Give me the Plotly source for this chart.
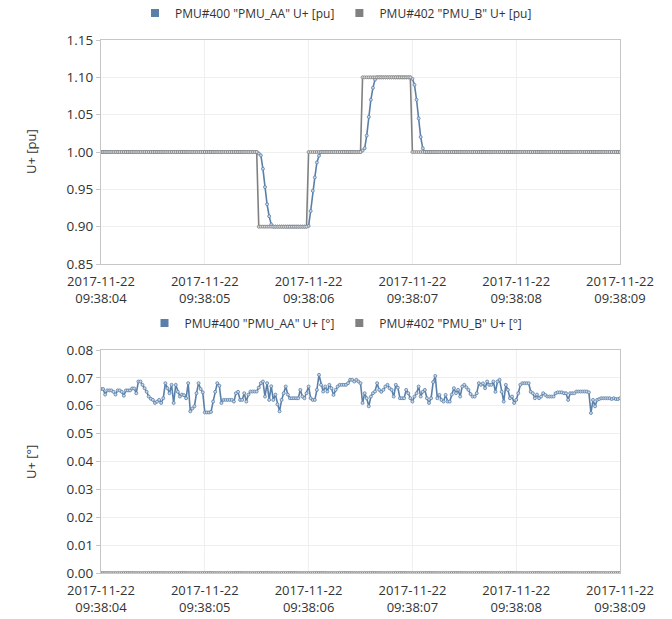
import pandas as pd
import plotly.graph_objects as go

# Sample timestamps (50 samples per second, 5 s window)
START = "2017-11-22 09:38:04"
N_SAMPLES = 251
times = pd.date_range(START, periods=N_SAMPLES, freq="20ms").strftime("%Y-%m-%d %H:%M:%S.%f").tolist()

SERIES_AA = 'PMU#400 "PMU_AA" U+'
SERIES_B = 'PMU#402 "PMU_B" U+'

# Positive-sequence voltage magnitude [pu]
u_mag_aa = [
    1.00, 1.00, 1.00, 1.00, 1.00, 1.00, 1.00, 1.00, 1.00, 1.00,
    1.00, 1.00, 1.00, 1.00, 1.00, 1.00, 1.00, 1.00, 1.00, 1.00,
    1.00, 1.00, 1.00, 1.00, 1.00, 1.00, 1.00, 1.00, 1.00, 1.00,
    1.00, 1.00, 1.00, 1.00, 1.00, 1.00, 1.00, 1.00, 1.00, 1.00,
    1.00, 1.00, 1.00, 1.00, 1.00, 1.00, 1.00, 1.00, 1.00, 1.00,
    1.00, 1.00, 1.00, 1.00, 1.00, 1.00, 1.00, 1.00, 1.00, 1.00,
    1.00, 1.00, 1.00, 1.00, 1.00, 1.00, 1.00, 1.00, 1.00, 1.00,
    1.00, 1.00, 1.00, 1.00, 1.00, 1.00,
    0.998, 0.9955, 0.9775, 0.953, 0.930, 0.914, 0.903, 0.900,
    0.90, 0.90, 0.90, 0.90, 0.90, 0.90, 0.90, 0.90,
    0.90, 0.90, 0.90, 0.90, 0.90, 0.90, 0.90, 0.90,
    0.901, 0.921, 0.948, 0.966, 0.986, 0.995, 1.00,
    1.00, 1.00, 1.00, 1.00, 1.00, 1.00, 1.00, 1.00, 1.00, 1.00,
    1.00, 1.00, 1.00, 1.00, 1.00, 1.00, 1.00, 1.00, 1.00,
    1.002, 1.005, 1.022, 1.047, 1.070, 1.086, 1.097, 1.100,
    1.10, 1.10, 1.10, 1.10, 1.10, 1.10, 1.10, 1.10,
    1.10, 1.10, 1.10, 1.10, 1.10, 1.10, 1.10, 1.10,
    1.098, 1.090, 1.070, 1.045, 1.020, 1.005, 1.00,
    1.00, 1.00, 1.00, 1.00, 1.00, 1.00, 1.00, 1.00, 1.00, 1.00,
    1.00, 1.00, 1.00, 1.00, 1.00, 1.00, 1.00, 1.00, 1.00, 1.00,
    1.00, 1.00, 1.00, 1.00, 1.00, 1.00, 1.00, 1.00, 1.00, 1.00,
    1.00, 1.00, 1.00, 1.00, 1.00, 1.00, 1.00, 1.00, 1.00, 1.00,
    1.00, 1.00, 1.00, 1.00, 1.00, 1.00, 1.00, 1.00, 1.00, 1.00,
    1.00, 1.00, 1.00, 1.00, 1.00, 1.00, 1.00, 1.00, 1.00, 1.00,
    1.00, 1.00, 1.00, 1.00, 1.00, 1.00, 1.00, 1.00, 1.00, 1.00,
    1.00, 1.00, 1.00, 1.00, 1.00, 1.00, 1.00, 1.00, 1.00, 1.00,
    1.00, 1.00, 1.00, 1.00, 1.00, 1.00, 1.00, 1.00, 1.00, 1.00,
    1.00, 1.00, 1.00, 1.00,
]

u_mag_b = [
    1.00, 1.00, 1.00, 1.00, 1.00, 1.00, 1.00, 1.00, 1.00, 1.00,
    1.00, 1.00, 1.00, 1.00, 1.00, 1.00, 1.00, 1.00, 1.00, 1.00,
    1.00, 1.00, 1.00, 1.00, 1.00, 1.00, 1.00, 1.00, 1.00, 1.00,
    1.00, 1.00, 1.00, 1.00, 1.00, 1.00, 1.00, 1.00, 1.00, 1.00,
    1.00, 1.00, 1.00, 1.00, 1.00, 1.00, 1.00, 1.00, 1.00, 1.00,
    1.00, 1.00, 1.00, 1.00, 1.00, 1.00, 1.00, 1.00, 1.00, 1.00,
    1.00, 1.00, 1.00, 1.00, 1.00, 1.00, 1.00, 1.00, 1.00, 1.00,
    1.00, 1.00, 1.00, 1.00, 1.00, 1.00,
    0.90, 0.90, 0.90, 0.90, 0.90, 0.90, 0.90, 0.90, 0.90, 0.90, 0.90, 0.90,
    0.90, 0.90, 0.90, 0.90, 0.90, 0.90, 0.90, 0.90, 0.90, 0.90, 0.90, 0.90,
    1.00, 1.00, 1.00, 1.00, 1.00, 1.00, 1.00, 1.00, 1.00, 1.00, 1.00, 1.00, 1.00,
    1.00, 1.00, 1.00, 1.00, 1.00, 1.00, 1.00, 1.00, 1.00, 1.00, 1.00, 1.00, 1.00,
    1.10, 1.10, 1.10, 1.10, 1.10, 1.10, 1.10, 1.10, 1.10, 1.10, 1.10, 1.10,
    1.10, 1.10, 1.10, 1.10, 1.10, 1.10, 1.10, 1.10, 1.10, 1.10, 1.10, 1.10,
    1.00, 1.00, 1.00, 1.00, 1.00, 1.00, 1.00, 1.00, 1.00, 1.00,
    1.00, 1.00, 1.00, 1.00, 1.00, 1.00, 1.00, 1.00, 1.00, 1.00,
    1.00, 1.00, 1.00, 1.00, 1.00, 1.00, 1.00, 1.00, 1.00, 1.00,
    1.00, 1.00, 1.00, 1.00, 1.00, 1.00, 1.00, 1.00, 1.00, 1.00,
    1.00, 1.00, 1.00, 1.00, 1.00, 1.00, 1.00, 1.00, 1.00, 1.00,
    1.00, 1.00, 1.00, 1.00, 1.00, 1.00, 1.00, 1.00, 1.00, 1.00,
    1.00, 1.00, 1.00, 1.00, 1.00, 1.00, 1.00, 1.00, 1.00, 1.00,
    1.00, 1.00, 1.00, 1.00, 1.00, 1.00, 1.00, 1.00, 1.00, 1.00,
    1.00, 1.00, 1.00, 1.00, 1.00, 1.00, 1.00, 1.00, 1.00, 1.00,
    1.00, 1.00, 1.00, 1.00, 1.00, 1.00, 1.00, 1.00, 1.00, 1.00,
    1.00,
]

# Positive-sequence voltage angle [deg]
u_ang_aa = [
    0.066, 0.066, 0.064, 0.0655, 0.0655, 0.0655, 0.065, 0.064, 0.0655, 0.0655,
    0.065, 0.0636, 0.0655, 0.0655, 0.0655, 0.0662, 0.0662, 0.0645, 0.0687, 0.0687,
    0.0675, 0.0663, 0.065, 0.0633, 0.0625, 0.0621, 0.061, 0.0615, 0.0621, 0.061,
    0.0627, 0.0681, 0.0663, 0.0645, 0.0675, 0.061, 0.0675, 0.065, 0.0633, 0.064,
    0.0638, 0.0627, 0.0681, 0.058, 0.059, 0.0598, 0.0645, 0.0681, 0.066, 0.0648,
    0.0576, 0.0576, 0.0576, 0.0578, 0.0615, 0.065, 0.0681, 0.0672, 0.061, 0.0621,
    0.0621, 0.0621, 0.0621, 0.0621, 0.0615, 0.0645, 0.065, 0.0621, 0.0621, 0.0645,
    0.0615, 0.064, 0.0651, 0.0651, 0.0651, 0.0651, 0.0665, 0.0681, 0.0687, 0.0633,
    0.0681, 0.0621, 0.067, 0.0621, 0.0640,
    0.0605, 0.058, 0.0621, 0.0645, 0.0669, 0.064, 0.0627, 0.0627, 0.0627, 0.0627,
    0.0627, 0.0657, 0.0633, 0.0627, 0.0645, 0.0669, 0.0627, 0.0621, 0.0621, 0.0657,
    0.0711, 0.0675, 0.0651, 0.0669, 0.0651, 0.0675, 0.0663, 0.0639, 0.0657, 0.0669,
    0.0675, 0.0675, 0.0675, 0.0675, 0.0681, 0.0693, 0.0693, 0.0687, 0.0693, 0.0687,
    0.0681, 0.061, 0.0645, 0.0627, 0.0598, 0.0633, 0.0645, 0.0651, 0.0681, 0.0657,
    0.065, 0.0657, 0.0669, 0.0675, 0.0663, 0.0657, 0.0633, 0.0675, 0.0665, 0.0627,
    0.0627, 0.0627, 0.0657, 0.0645, 0.0627, 0.0615, 0.0633, 0.0645, 0.0669, 0.0633,
    0.065, 0.0657, 0.0627, 0.061, 0.0627, 0.0685, 0.0707, 0.0627, 0.0639, 0.0621,
    0.0615, 0.0639, 0.0615, 0.0615,
    0.064, 0.0663, 0.0645, 0.0657, 0.0633, 0.0669, 0.0675, 0.0666, 0.0657, 0.0642,
    0.0633, 0.0633, 0.0645, 0.0681, 0.0675, 0.068, 0.0663, 0.0687, 0.0675, 0.0675,
    0.0687, 0.065, 0.0687, 0.0693, 0.065, 0.0615, 0.0675, 0.0657, 0.0627, 0.0633,
    0.061, 0.0621, 0.0645, 0.0675, 0.0681, 0.0681, 0.0681, 0.0681, 0.065, 0.0645,
    0.0627, 0.064, 0.0627, 0.0633, 0.0645, 0.0639, 0.0633, 0.0633, 0.0633, 0.0633,
    0.0645, 0.0648, 0.0648, 0.0648, 0.0645, 0.0645, 0.0621, 0.0645, 0.0645, 0.0645,
    0.0651, 0.0651, 0.0651, 0.0651, 0.0651, 0.0651, 0.0648, 0.0574, 0.0621, 0.0598,
    0.0621, 0.0624, 0.0627, 0.0627, 0.0627, 0.0627, 0.0627, 0.0624, 0.0627, 0.0624,
    0.0624, 0.0627,
]

u_ang_b = [
    0.0, 0.0, 0.0, 0.0, 0.0, 0.0, 0.0, 0.0, 0.0, 0.0, 0.0, 0.0, 0.0, 0.0, 0.0, 0.0,
    0.0, 0.0, 0.0, 0.0, 0.0, 0.0, 0.0, 0.0, 0.0, 0.0, 0.0, 0.0, 0.0, 0.0, 0.0, 0.0,
    0.0, 0.0, 0.0, 0.0, 0.0, 0.0, 0.0, 0.0, 0.0, 0.0, 0.0, 0.0, 0.0, 0.0, 0.0, 0.0,
    0.0, 0.0, 0.0, 0.0, 0.0, 0.0, 0.0, 0.0, 0.0, 0.0, 0.0, 0.0, 0.0, 0.0, 0.0, 0.0,
    0.0, 0.0, 0.0, 0.0, 0.0, 0.0, 0.0, 0.0, 0.0, 0.0, 0.0, 0.0, 0.0, 0.0, 0.0, 0.0,
    0.0, 0.0, 0.0, 0.0, 0.0, 0.0, 0.0, 0.0, 0.0, 0.0, 0.0, 0.0, 0.0, 0.0, 0.0, 0.0,
    0.0, 0.0, 0.0, 0.0, 0.0, 0.0, 0.0, 0.0, 0.0, 0.0, 0.0, 0.0, 0.0, 0.0, 0.0, 0.0,
    0.0, 0.0, 0.0, 0.0, 0.0, 0.0, 0.0, 0.0, 0.0, 0.0, 0.0, 0.0, 0.0, 0.0, 0.0, 0.0,
    0.0, 0.0, 0.0, 0.0, 0.0, 0.0, 0.0, 0.0, 0.0, 0.0, 0.0, 0.0, 0.0, 0.0, 0.0, 0.0,
    0.0, 0.0, 0.0, 0.0, 0.0, 0.0, 0.0, 0.0, 0.0, 0.0, 0.0, 0.0, 0.0, 0.0, 0.0, 0.0,
    0.0, 0.0, 0.0, 0.0, 0.0, 0.0, 0.0, 0.0, 0.0, 0.0, 0.0, 0.0, 0.0, 0.0, 0.0, 0.0,
    0.0, 0.0, 0.0, 0.0, 0.0, 0.0, 0.0, 0.0, 0.0, 0.0, 0.0, 0.0, 0.0, 0.0, 0.0, 0.0,
    0.0, 0.0, 0.0, 0.0, 0.0, 0.0, 0.0, 0.0, 0.0, 0.0, 0.0, 0.0, 0.0, 0.0, 0.0, 0.0,
    0.0, 0.0, 0.0, 0.0, 0.0, 0.0, 0.0, 0.0, 0.0, 0.0, 0.0, 0.0, 0.0, 0.0, 0.0, 0.0,
    0.0, 0.0, 0.0, 0.0, 0.0, 0.0, 0.0, 0.0, 0.0, 0.0, 0.0, 0.0, 0.0, 0.0, 0.0, 0.0,
    0.0, 0.0, 0.0, 0.0, 0.0, 0.0, 0.0, 0.0, 0.0, 0.0, 0.0,
]

# Axis ticks
x_tickvals = ["2017-11-22 09:38:04", "2017-11-22 09:38:05", "2017-11-22 09:38:06",
              "2017-11-22 09:38:07", "2017-11-22 09:38:08", "2017-11-22 09:38:09"]
x_ticktext = ["2017-11-22<br>09:38:04", "2017-11-22<br>09:38:05", "2017-11-22<br>09:38:06",
              "2017-11-22<br>09:38:07", "2017-11-22<br>09:38:08", "2017-11-22<br>09:38:09"]
mag_ticks = [0.85, 0.90, 0.95, 1.00, 1.05, 1.10, 1.15]
ang_ticks = [0.00, 0.01, 0.02, 0.03, 0.04, 0.05, 0.06, 0.07, 0.08]

BLUE = "#5a80aa"
GREY = "#808080"
FONT = "Open Sans"
TEXT = "#333333"

fig = go.Figure()


def add_series(x, y, color, fill, xa, ya):
    fig.add_trace(go.Scatter(
        x=x, y=y, mode="lines+markers", xaxis=xa, yaxis=ya, showlegend=False,
        line=dict(color=color, width=1.6),
        marker=dict(size=3, color=fill, line=dict(color=color, width=0.8)),
    ))


def add_legend_entry(name, color, legend):
    fig.add_trace(go.Scatter(
        x=[None], y=[None], mode="markers", name=name, legend=legend,
        marker=dict(symbol="square", size=8, color=color),
    ))


add_series(times, u_mag_aa, BLUE, "#c9d6e6", "x", "y")
add_series(times, u_mag_b, GREY, "#dcdcdc", "x", "y")
add_series(times, u_ang_aa, BLUE, "#c9d6e6", "x2", "y2")
add_series(times, u_ang_b, GREY, "#dcdcdc", "x2", "y2")

add_legend_entry(SERIES_AA + " [pu]", BLUE, "legend")
add_legend_entry(SERIES_B + " [pu]", GREY, "legend")
add_legend_entry(SERIES_AA + " [°]", BLUE, "legend2")
add_legend_entry(SERIES_B + " [°]", GREY, "legend2")

axis_common = dict(
    showline=True, mirror=True, linecolor="#c6c6c6", linewidth=1,
    showgrid=True, gridcolor="#efefef", zeroline=False,
)
xaxis_common = dict(
    axis_common, type="date",
    range=["2017-11-22 09:38:04", "2017-11-22 09:38:09"],
    tickmode="array", tickvals=x_tickvals, ticktext=x_ticktext, ticks="",
    ticklabelstandoff=5,
    tickfont=dict(family=FONT, size=13, color=TEXT),
)
yaxis_common = dict(
    axis_common, tickmode="array", tickformat=".2f",
    ticks="outside", ticklen=4, tickcolor="#c6c6c6",
    tickfont=dict(family=FONT, size=13.5, color=TEXT),
)

H_PLOT = 619 - 40 - 46
top_bottom = (573 - 264) / H_PLOT
bot_top = (573 - 350) / H_PLOT
legend_common = dict(
    orientation="h", x=(336 - 101) / 519, xanchor="center", yanchor="middle",
    font=dict(family=FONT, size=12, color=TEXT),
    itemwidth=30, tracegroupgap=0, bgcolor="rgba(0,0,0,0)",
)

fig.update_layout(
    width=672, height=619,
    margin=dict(l=101, r=52, t=40, b=46, autoexpand=False),
    paper_bgcolor="white", plot_bgcolor="white",
    font=dict(family=FONT, size=12, color=TEXT),
    xaxis=dict(xaxis_common, domain=[0, 1], anchor="y"),
    yaxis=dict(yaxis_common, domain=[top_bottom, 1], anchor="x",
               range=[0.85, 1.15], tickvals=mag_ticks),
    xaxis2=dict(xaxis_common, domain=[0, 1], anchor="y2"),
    yaxis2=dict(yaxis_common, domain=[0, bot_top], anchor="x2",
                range=[0, 0.08], tickvals=ang_ticks),
    legend=dict(legend_common, y=(573 - 13) / H_PLOT),
    legend2=dict(legend_common, y=(573 - 323) / H_PLOT),
    annotations=[
        dict(text="U+ [pu]", x=(31 - 101) / 519, y=(573 - 152) / H_PLOT,
             xref="paper", yref="paper", showarrow=False, textangle=-90,
             xanchor="center", yanchor="middle",
             font=dict(family=FONT, size=13, color=TEXT)),
        dict(text="U+ [°]", x=(31 - 101) / 519, y=(573 - 462) / H_PLOT,
             xref="paper", yref="paper", showarrow=False, textangle=-90,
             xanchor="center", yanchor="middle",
             font=dict(family=FONT, size=13, color=TEXT)),
    ],
)

fig.write_html("out.html")
